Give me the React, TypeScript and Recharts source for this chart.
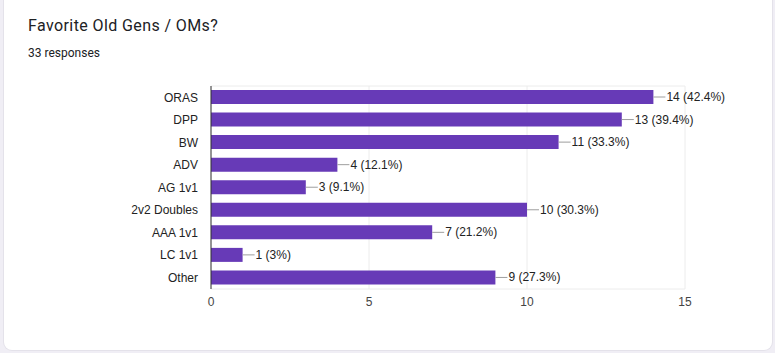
import { BarChart, Bar, XAxis, YAxis, CartesianGrid, LabelList } from 'recharts';

const OPTIONS = ['ORAS', 'DPP', 'BW', 'ADV', 'AG 1v1', '2v2 Doubles', 'AAA 1v1', 'LC 1v1', 'Other'];
const VOTES = [14, 13, 11, 4, 3, 10, 7, 1, 9];
const TOTAL = 33;
const X_TICKS = [0, 5, 10, 15];

const rows = OPTIONS.map((name, i) => ({ name, votes: VOTES[i] }));

const pct = (v: number) => `${Math.round((v / TOTAL) * 1000) / 10}%`;

function ValueLabel(props: any) {
    const { x, y, width, height, value } = props;
    const endX = x + width;
    const midY = y + height / 2;
    return (
        <g>
            <line x1={endX} y1={midY} x2={endX + 12} y2={midY} stroke="#9e9e9e" strokeWidth={1} />
            <text x={endX + 13} y={midY} dy={4} fontSize={12} fill="#222222" fontFamily="Liberation Sans, Arial, sans-serif">
                {`${value} (${pct(value)})`}
            </text>
        </g>
    );
}

export default function App() {
    return (
        <div style={{ position: 'fixed', inset: 0, width: 775, height: 353, background: '#f0eef5', overflow: 'hidden' }}>
            <div
                style={{
                    position: 'absolute', left: 4, top: -10, width: 768, height: 360,
                    background: '#ffffff', borderRadius: 8, boxShadow: '0 0 0 1px #e4e2ea',
                }}
            />
            <div style={{ position: 'absolute', left: 28, top: 16, fontFamily: 'Roboto, Arial, sans-serif', fontSize: 16, letterSpacing: 0.4, color: '#202124' }}>
                Favorite Old Gens / OMs?
            </div>
            <div style={{ position: 'absolute', left: 28, top: 46, fontFamily: 'Roboto, Arial, sans-serif', fontSize: 12, color: '#202124' }}>
                33 responses
            </div>
            <div style={{ position: 'absolute', left: 0, top: 0 }}>
                <BarChart
                    width={775}
                    height={353}
                    data={rows}
                    layout="vertical"
                    margin={{ top: 86, right: 90, bottom: 34, left: 11 }}
                    barCategoryGap={0}
                >
                    <CartesianGrid
                        stroke="#ececec"
                        horizontalCoordinatesGenerator={(p: any) => [p.offset.top, p.offset.top + p.offset.height]}
                    />
                    <XAxis
                        type="number"
                        domain={[0, 15]}
                        ticks={X_TICKS}
                        axisLine={false}
                        tickLine={false}
                        height={30}
                        tick={{ fontSize: 12, fill: '#444444', fontFamily: 'Liberation Sans, Arial, sans-serif' }}
                    />
                    <YAxis
                        type="category"
                        dataKey="name"
                        width={200}
                        axisLine={{ stroke: '#333333' }}
                        tickLine={false}
                        tickMargin={7}
                        tick={{ fontSize: 12, fill: '#222222', fontFamily: 'Liberation Sans, Arial, sans-serif' }}
                    />
                    <Bar dataKey="votes" fill="#673ab7" barSize={14} isAnimationActive={false}>
                        <LabelList dataKey="votes" content={<ValueLabel />} />
                    </Bar>
                </BarChart>
            </div>
        </div>
    );
}
